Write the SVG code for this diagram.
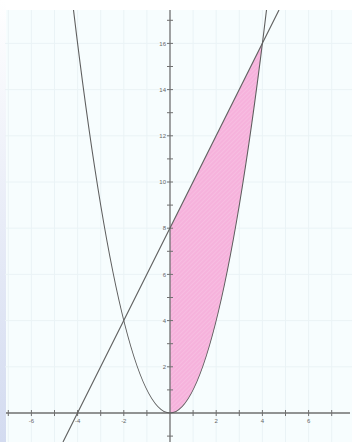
<svg xmlns="http://www.w3.org/2000/svg" width="352" height="442" viewBox="0 0 352 442">
<defs>
<linearGradient id="side" x1="0" y1="0" x2="0" y2="1">
<stop offset="0" stop-color="#ffffff"/>
<stop offset="0.5" stop-color="#e8ecf7"/>
<stop offset="1" stop-color="#d3dbf0"/>
</linearGradient>
<pattern id="hatch" width="3" height="3" patternUnits="userSpaceOnUse" patternTransform="rotate(45)">
<rect width="3" height="3" fill="#f6b2dc"/>
<line x1="0" y1="0" x2="0" y2="3" stroke="#f9c8e6" stroke-width="1"/>
</pattern>
<clipPath id="plot"><rect x="5" y="10" width="347" height="432"/></clipPath>
<style>
.grid{stroke:#eaf3f6;stroke-width:1}
.axis{stroke:#707070;stroke-width:1.3;fill:none}
.tick{stroke:#707070;stroke-width:1}
.curve{stroke:#5e5e5e;stroke-width:1.1;fill:none}
.lbl{font-family:"Liberation Sans",Arial,sans-serif;font-size:6px;fill:#666}
</style>
</defs>
<rect width="352" height="442" fill="#ffffff"/>
<rect x="5" y="10" width="347" height="432" fill="#f7fdfe"/>
<rect x="0" y="0" width="6" height="442" fill="url(#side)"/>
<g id="grid">
<path class="grid" d="M31.4 10V442M54.5 10V442M77.6 10V442M100.7 10V442M123.8 10V442M146.9 10V442M193.1 10V442M216.2 10V442M239.3 10V442M262.4 10V442M285.5 10V442M308.6 10V442M331.7 10V442M8.3 10V442M5 43.4H352M5 89.6H352M5 135.8H352M5 182H352M5 228.2H352M5 274.4H352M5 320.6H352M5 366.8H352"/>
</g>
<g id="region">
<path d="M170 413Q216.2 413 262.4 43.4L170 228.2Z" fill="url(#hatch)"/>
</g>
<g id="axes">
<path class="axis" d="M6 413H350M170 10V442"/>
<path class="tick" d="M8.3 410V416M31.4 410V416M54.5 410V416M77.6 410V416M100.7 410V416M123.8 410V416M146.9 410V416M193.1 410V416M216.2 410V416M239.3 410V416M262.4 410V416M285.5 410V416M308.6 410V416M331.7 410V416"/>
<path class="tick" d="M167 436.1H173M167 389.9H173M167 366.8H173M167 343.7H173M167 320.6H173M167 297.5H173M167 274.4H173M167 251.3H173M167 228.2H173M167 205.1H173M167 182H173M167 158.9H173M167 135.8H173M167 112.7H173M167 89.6H173M167 66.5H173M167 43.4H173M167 20.3H173"/>
</g>
<g id="labels" class="lbl">
<text x="31.4" y="423" text-anchor="middle">-6</text>
<text x="77.6" y="423" text-anchor="middle">-4</text>
<text x="123.8" y="423" text-anchor="middle">-2</text>
<text x="216.2" y="423" text-anchor="middle">2</text>
<text x="262.4" y="423" text-anchor="middle">4</text>
<text x="308.6" y="423" text-anchor="middle">6</text>
<text x="166" y="369" text-anchor="end">2</text>
<text x="166" y="322.8" text-anchor="end">4</text>
<text x="166" y="276.6" text-anchor="end">6</text>
<text x="166" y="230.4" text-anchor="end">8</text>
<text x="166" y="184.2" text-anchor="end">10</text>
<text x="166" y="138" text-anchor="end">12</text>
<text x="166" y="91.8" text-anchor="end">14</text>
<text x="166" y="45.6" text-anchor="end">16</text>
</g>
<g id="curves" clip-path="url(#plot)">
<path class="curve" d="M73.5 10Q170 816 266.5 10"/>
<path class="curve" d="M63 442L279 10"/>
</g>
</svg>
